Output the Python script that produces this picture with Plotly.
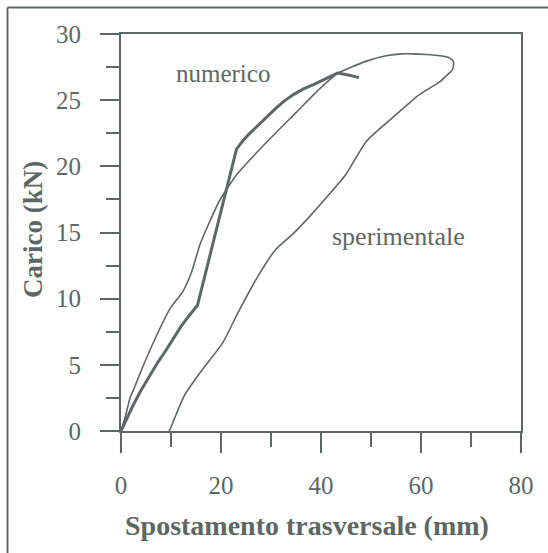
import plotly.graph_objects as go

# Data
num_x = [0, 1.0, 2.3, 3.9, 5.6, 7.3, 9.0, 10.5, 12.0, 13.7, 15.3, 23.1, 24.3, 25.5, 26.8, 28.1,
         29.5, 31.0, 32.7, 34.4, 36.5, 38.6, 41.0, 43.3, 45.5, 47.6]
num_y = [0, 0.85, 1.85, 3.0, 4.1, 5.15, 6.1, 7.0, 7.9, 8.75, 9.5, 21.3, 21.9, 22.4, 22.85, 23.3,
         23.85, 24.4, 24.95, 25.4, 25.85, 26.2, 26.65, 27.05, 26.9, 26.7]

sper_x = [0, 0.8, 1.9, 2.6, 4.3, 7.1, 9.9, 12.3, 14.1, 15.8, 17.6, 19.7, 23.2, 28.8, 35.1,
          39.3, 43.2, 49.1, 53.0, 56.1, 58.4, 61.0, 63.8, 65.6, 66.5, 66.3, 65.5, 63.8,
          59.6, 55.0, 49.1, 45.0, 41.0, 37.7, 34.4, 30.9, 27.4, 23.2, 20.4, 16.2, 12.7,
          10.6, 9.9, 9.6]
sper_y = [0, 1.0, 2.6, 3.2, 4.8, 7.2, 9.3, 10.5, 12.0, 14.1, 15.7, 17.4, 19.4, 21.7, 24.1,
          25.7, 27.0, 27.95, 28.35, 28.5, 28.5, 28.45, 28.35, 28.2, 27.9, 27.3, 27.0, 26.4,
          25.4, 23.9, 21.9, 19.4, 17.6, 16.2, 14.9, 13.7, 11.7, 8.8, 6.7, 4.6, 2.7,
          0.86, 0.2, 0]

x_ticks = [0, 20, 40, 60, 80]
y_ticks = [0, 5, 10, 15, 20, 25, 30]

C = "#5d6866"
SERIF = "Liberation Serif, Times New Roman, serif"

fig = go.Figure()
fig.add_trace(go.Scatter(x=sper_x, y=sper_y, mode="lines",
                         line=dict(color=C, width=1.6, shape="spline", smoothing=0.6),
                         name="sperimentale"))
fig.add_trace(go.Scatter(x=num_x, y=num_y, mode="lines",
                         line=dict(color=C, width=3), name="numerico"))

fig.update_layout(
    width=548, height=553,
    margin=dict(l=121, r=27, t=34, b=122),
    paper_bgcolor="white", plot_bgcolor="white",
    showlegend=False,
    font=dict(family=SERIF, color=C, size=25),
)
fig.update_xaxes(
    range=[0, 80], tickvals=x_ticks, ticktext=[str(v) for v in x_ticks],
    ticks="outside", ticklen=20, tickwidth=2, tickcolor=C,
    showline=True, linecolor=C, linewidth=2, mirror=True,
    showgrid=False, zeroline=False,
    tickfont=dict(size=25, family=SERIF, color=C),
    ticklabelstandoff=11,
    minor=dict(tickvals=[10, 30, 50, 70], ticks="outside", ticklen=14,
               tickwidth=2, tickcolor=C),
)
fig.update_yaxes(
    range=[0, 30], tickvals=y_ticks, ticktext=[str(v) for v in y_ticks],
    ticks="outside", ticklen=19, tickwidth=2, tickcolor=C,
    showline=True, linecolor=C, linewidth=2, mirror=True,
    showgrid=False, zeroline=False,
    tickfont=dict(size=25, family=SERIF, color=C),
    ticklabelstandoff=14,
    minor=dict(tickvals=[2.5, 7.5, 12.5, 17.5, 22.5, 27.5], ticks="outside",
               ticklen=13, tickwidth=2, tickcolor=C),
)

# Axis titles
fig.add_annotation(text="<b>Spostamento trasversale (mm)</b>",
                   xref="paper", yref="paper", x=(307 - 121) / 400, y=(431 - 525) / 397,
                   xanchor="center", yanchor="middle", showarrow=False,
                   font=dict(size=28, family=SERIF, color=C))
fig.add_annotation(text="<b>Carico (kN)</b>",
                   xref="paper", yref="paper", x=(33 - 121) / 400, y=(431 - 230) / 397,
                   xanchor="center", yanchor="middle", textangle=-90, showarrow=False,
                   font=dict(size=27, family=SERIF, color=C))

# Curve labels
fig.add_annotation(text="numerico", x=20.4, y=27.0, xref="x", yref="y",
                   showarrow=False, font=dict(size=25, family=SERIF, color=C))
fig.add_annotation(text="sperimentale", x=55.4, y=14.7, xref="x", yref="y",
                   showarrow=False, font=dict(size=26, family=SERIF, color=C))

# Outer frame (left and top edges visible)
fig.add_shape(type="line", xref="paper", yref="paper",
              x0=(7.5 - 121) / 400, x1=(7.5 - 121) / 400,
              y0=(431 - 560) / 397, y1=(431 - 7.5) / 397,
              line=dict(color=C, width=2))
fig.add_shape(type="line", xref="paper", yref="paper",
              x0=(7.5 - 121) / 400, x1=(560 - 121) / 400,
              y0=(431 - 7.5) / 397, y1=(431 - 7.5) / 397,
              line=dict(color=C, width=2))

fig.write_html("out.html")
